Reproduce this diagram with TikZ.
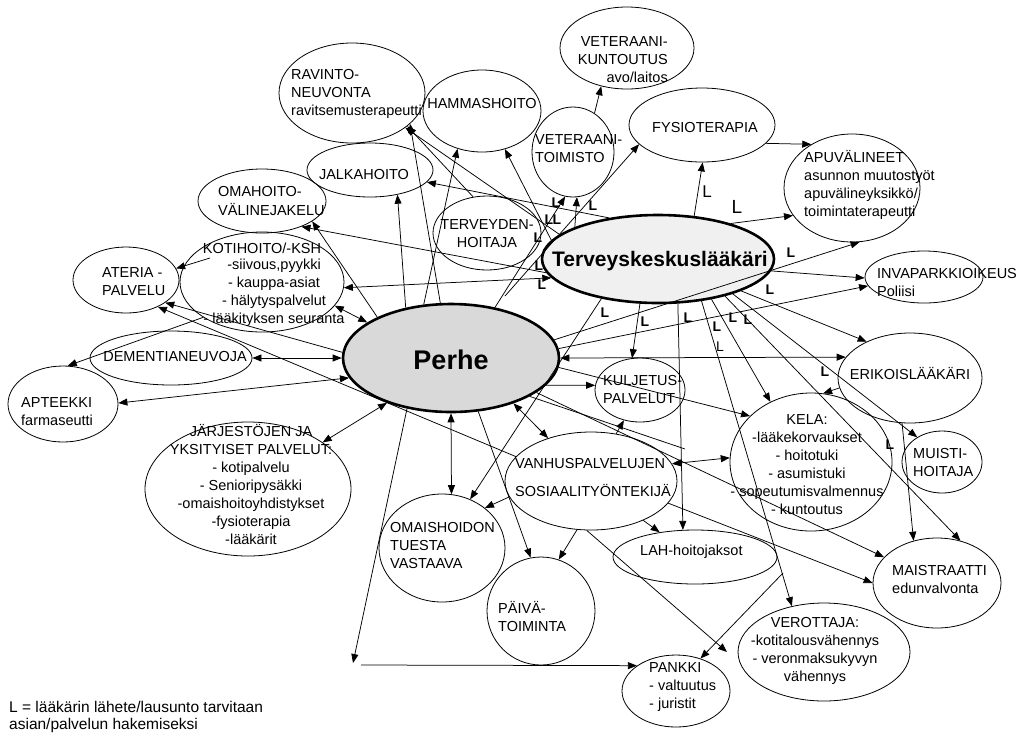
\documentclass[tikz,border=0pt]{standalone}
\usepackage{fontspec}
\setmainfont{Liberation Sans}
\usetikzlibrary{shapes.geometric,arrows.meta}
\begin{document}
\begin{tikzpicture}[x=1pt,y=-1pt,
  ell/.style={draw,ellipse,inner sep=0pt,line width=0.8pt},
  bigell/.style={draw,ellipse,inner sep=0pt,line width=2.6pt},
  tx/.style={inner sep=0pt,font=\fontsize{14.5}{18}\selectfont},
  lb/.style={inner sep=0pt,font=\fontsize{14}{14}\selectfont\bfseries},
  lr/.style={inner sep=0pt,font=\fontsize{17}{17}\selectfont},
  ln/.style={line width=0.75pt},
  arr/.style={ln,-{Triangle[length=9pt,width=7pt]}},
  darr/.style={ln,{Triangle[length=9pt,width=7pt]}-{Triangle[length=9pt,width=7pt]}}
]
\useasboundingbox (0,0) rectangle (1024,740);

% ---------- ellipses ----------
\node[ell,minimum width=146pt,minimum height=100pt] (rav) at (352,93) {};
\node[ell,minimum width=118pt,minimum height=82pt] (ham) at (482,111) {};
\node[ell,minimum width=134pt,minimum height=82pt] (vku) at (627,48) {};
\node[ell,minimum width=82pt,minimum height=90pt] (vto) at (573,152) {};
\node[ell,minimum width=146pt,minimum height=74pt] (fys) at (702,125) {};
\node[ell,minimum width=136pt,minimum height=108pt] (apu) at (852,188) {};
\node[ell,minimum width=126pt,minimum height=54pt] (jal) at (370,170) {};
\node[ell,minimum width=128pt,minimum height=64pt] (oma) at (262,201) {};
\node[ell,minimum width=108pt,minimum height=74pt] (ter) at (487,233) {};
\node[bigell,fill=black!6,minimum width=232pt,minimum height=88pt] (tk) at (658,259) {};
\node[ell,minimum width=164pt,minimum height=100pt] (kot) at (262,282) {};
\node[ell,minimum width=106pt,minimum height=66pt] (ate) at (126,280) {};
\node[ell,minimum width=162pt,minimum height=54pt] (dem) at (171,358) {};
\node[ell,minimum width=110pt,minimum height=76pt] (apt) at (63,404) {};
\node[bigell,fill=black!15,minimum width=216pt,minimum height=108pt] (perhe) at (451,358) {};
\node[ell,minimum width=206pt,minimum height=134pt] (jar) at (248,489) {};
\node[ell,minimum width=90pt,minimum height=64pt] (kul) at (640,390) {};
\node[ell,minimum width=144pt,minimum height=90pt] (eri) at (910,378) {};
\node[ell,minimum width=162pt,minimum height=138pt] (kela) at (811,462) {};
\node[ell,minimum width=80pt,minimum height=62pt] (mui) at (942,462) {};
\node[ell,minimum width=172pt,minimum height=98pt] (van) at (591,481) {};
\node[ell,minimum width=126pt,minimum height=108pt] (omh) at (442,548) {};
\node[ell,minimum width=108pt,minimum height=108pt] (pai) at (541,611) {};
\node[ell,minimum width=164pt,minimum height=54pt] (lah) at (695,557) {};
\node[ell,minimum width=128pt,minimum height=90pt] (mai) at (937,583) {};
\node[ell,minimum width=172pt,minimum height=98pt] (ver) at (824,652) {};
\node[ell,minimum width=108pt,minimum height=72pt] (pan) at (676,691) {};
\node[ell,minimum width=118pt,minimum height=52pt] (inv) at (924,277) {};

% ---------- free ends ----------
\coordinate (k1) at (210,258);
\coordinate (p1) at (353,663);
\coordinate (p2) at (361,665);
\coordinate (q1) at (727,652);
\coordinate (q2) at (783,573);
\coordinate (f1) at (505,296);
\coordinate (e1) at (685,449);

% ---------- connectors ----------
\draw[arr] (perhe.132) -- (jal.-42);
\draw[arr] (perhe.101) -- (rav.-28);
\draw[arr] (perhe.117) -- (ham.-123);
\draw[arr] (tk.166) -- (rav.-33);
\draw[arr] (ter.111) -- (rav.-31);
\draw[arr] (tk.170) -- (ham.-59);
\draw[arr] (tk.140) -- (jal.-12);
\draw[arr] (tk.187) -- (oma.-33);
\draw[arr] (perhe.151) -- (oma.-22);
\draw[darr] (kot.-18) -- (perhe.157);
\draw[darr] (tk.190) -- (kot.-4);
\draw[arr] (k1) -- (ate.13);
\draw[arr] (kot.-149) -- (apt.83);
\draw[arr] (perhe.177) -- (ate.-30);
\draw[arr] (van.162) -- (ate.-40);
\draw[darr] (dem.east) -- (perhe.west);
\draw[darr] (apt.1) -- (perhe.191);
\draw[darr] (jar.32) -- (perhe.215);
\draw[arr] (perhe.229) -- (p1);
\draw[arr] (p2) -- (pan.147);
\draw[darr] (perhe.south) -- (omh.80);
\draw[arr] (van.191) -- (omh.43);
\draw[arr] (perhe.-63) -- (pai.101);
\draw[arr] (van.254) -- (pai.71);
\draw[arr] (tk.215) -- (omh.60);
\draw[darr] (perhe.-36) -- (van.135);
\draw[darr] (van.12) -- (kela.177);
\draw[arr] (tk.-66) -- (lah.114);
\draw[arr] (van.-37) -- (lah.145);
\draw[arr] (van.265) -- (q1);
\draw[arr] (q2) -- (pan.53);
\draw[arr] (van.-16) -- (mai.west);
\draw[arr] (perhe.-22) -- (mai.154);
\draw[ln] (perhe.-26) -- (e1);
\draw[arr] (van.62) -- (kul.-118);
\draw[arr] (perhe.-5) -- (kela.143);
\draw[arr] (perhe.-16) -- (kul.174);
\draw[arr] (tk.-112) -- (kul.104);
\draw[darr] (perhe.east) -- (eri.162.6);
\draw[arr] (eri.188) -- (kela.80);
\draw[arr] (tk.26) -- (apu.205);
\draw[arr] (tk.50) -- (fys.-89);
\draw[arr] (fys.-16) -- (apu.133);
\draw[arr] (vto.61) -- (vku.236);
\draw[arr] (perhe.49) -- (vto.260);
\draw[arr] (tk.159) -- (vto.275);
\draw[arr] (f1) -- (fys.197);
\draw[arr] (tk.-6) -- (inv.181);
\draw[arr] (tk.-21) -- (eri.140);
\draw[arr] (perhe.10) -- (apu.-82);
\draw[arr] (perhe.5) -- (inv.189);
\draw[arr] (tk.-37) -- (kela.124);
\draw[arr] (tk.-44) -- (ver.125);
\draw[arr] (tk.-29) -- (mai.61);
\draw[arr] (tk.-25) -- (mui.135);
\draw[arr] (eri.260) -- (mai.119);

% ---------- texts ----------
\node[tx,anchor=west,align=left] (t1) at (291,94) {RAVINTO-\\NEUVONTA\\ravitsemusterapeutti};
\node[tx] (t2) at (482,104) {HAMMASHOITO};
\node[tx,anchor=east,align=right] (t3) at (668,60) {VETERAANI-\\KUNTOUTUS\\avo/laitos};
\node[tx,anchor=west,align=left] (t4) at (535,149) {VETERAANI-\\TOIMISTO};
\node[tx] (t5) at (705,128) {FYSIOTERAPIA};
\node[tx,anchor=west,align=left] (t6) at (804,185) {APUVÄLINEET\\asunnon muutostyöt\\apuvälineyksikkö/\\toimintaterapeutti};
\node[tx] (t7) at (364,175) {JALKAHOITO};
\node[tx,anchor=west,align=left] (t8) at (218,201) {OMAHOITO-\\VÄLINEJAKELU};
\node[tx,align=center] (t9) at (487,234) {TERVEYDEN-\\HOITAJA};
\node[inner sep=0pt,font=\fontsize{21}{21}\selectfont\bfseries] (t10) at (660,261) {Terveyskeskuslääkäri};
\node[tx] (t11) at (262,248) {KOTIHOITO/-KSH};
\node[tx,align=center] (t12) at (274,293) {-siivous,pyykki\\- kauppa-asiat\\- hälytyspalvelut\\- lääkityksen seuranta};
\node[tx,anchor=west,align=left] (t13) at (102,282) {ATERIA -\\PALVELU};
\node[tx] (t14) at (175,356) {DEMENTIANEUVOJA};
\node[tx,anchor=west,align=left] (t15) at (21,412) {APTEEKKI\\farmaseutti};
\node[inner sep=0pt,font=\fontsize{27}{27}\selectfont\bfseries] (t16) at (451,360) {Perhe};
\node[tx,align=center] (t17) at (251,484) {JÄRJESTÖJEN JA\\YKSITYISET PALVELUT:\\- kotipalvelu\\- Senioripysäkki\\-omaishoitoyhdistykset\\-fysioterapia\\-lääkärit};
\node[tx,anchor=west,align=left] (t18) at (603,389) {KULJETUS-\\PALVELUT};
\node[tx] (t19) at (910,373) {ERIKOISLÄÄKÄRI};
\node[tx,align=center] (t20) at (807,465) {KELA:\\-lääkekorvaukset\\- hoitotuki\\- asumistuki\\- sopeutumisvalmennus\\- kuntoutus};
\node[tx,anchor=west,align=left] (t21) at (913,462) {MUISTI-\\HOITAJA};
\node[tx,anchor=west,align=left] (t22) at (515,477) {VANHUSPALVELUJEN\\[10pt]SOSIAALITYÖNTEKIJÄ};
\node[tx,anchor=west,align=left] (t23) at (390,545) {OMAISHOIDON\\TUESTA\\VASTAAVA};
\node[tx,anchor=west,align=left] (t24) at (498,616) {PÄIVÄ-\\TOIMINTA};
\node[tx,anchor=west] (t25) at (640,552) {LAH-hoitojaksot};
\node[tx,anchor=west,align=left] (t26) at (892,579) {MAISTRAATTI\\edunvalvonta};
\node[tx,align=center] (t27) at (815,651) {VEROTTAJA:\\-kotitalousvähennys\\- veronmaksukyvyn\\vähennys};
\node[tx,anchor=west,align=left] (t28) at (649,687) {PANKKI\\- valtuutus\\- juristit};
\node[tx,anchor=west,align=left] (t29) at (877,282) {INVAPARKKIOIKEUS\\Poliisi};
\node[inner sep=0pt,anchor=west,align=left,font=\fontsize{15.5}{17}\selectfont] (t30) at (9,717) {L = lääkärin lähete/lausunto tarvitaan\\asian/palvelun hakemiseksi};

% ---------- L labels ----------
\node[lb] (l1) at (556,203) {L};
\node[lb] (l2) at (593,206) {L};
\node[lb] (l3) at (549,220) {L};
\node[lb] (l4) at (557,220) {L};
\node[lb] (l5) at (538,238) {L};
\node[lb] (l6) at (539,266) {L};
\node[lb] (l7) at (542,285) {L};
\node[lb] (l8) at (605,313) {L};
\node[lb] (l9) at (645,322) {L};
\node[lb] (l10) at (688,318) {L};
\node[lb] (l11) at (717,327) {L};
\node[lb] (l12) at (733,318) {L};
\node[lb] (l13) at (748,320) {L};
\node[lb] (l14) at (825,372) {L};
\node[lb] (l15) at (791,253) {L};
\node[lb] (l16) at (770,290) {L};
\node[lb] (l17) at (890,445) {L};
\node[inner sep=0pt,font=\fontsize{14}{14}\selectfont] (l18) at (720,347) {L};
\node[lr] (l19) at (707,192) {L};
\node[inner sep=0pt,font=\fontsize{19}{19}\selectfont] (l20) at (737,207) {L};
\end{tikzpicture}
\end{document}
